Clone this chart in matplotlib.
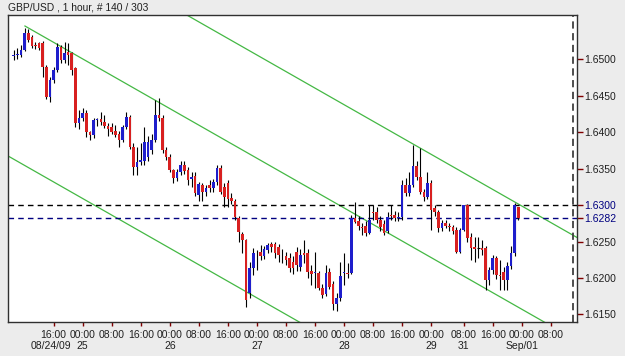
import numpy as np
import matplotlib
matplotlib.use("Agg")
import matplotlib.pyplot as plt

plt.rcParams['font.family'] = ['Liberation Sans', 'DejaVu Sans']

# hourly GBP/USD bars, 08/24/09 .. 09/01/09
opens = [1.6505, 1.6506, 1.6506, 1.6513, 1.6536, 1.6530, 1.6520, 1.6522, 1.6522, 1.6489,
         1.6448, 1.6472, 1.6485, 1.6517, 1.6499, 1.6510, 1.6508, 1.6488, 1.6412, 1.6419,
         1.6427, 1.6400, 1.6396, 1.6417, 1.6418, 1.6414, 1.6409, 1.6407, 1.6402, 1.6398,
         1.6389, 1.6407, 1.6421, 1.6380, 1.6352, 1.6359, 1.6360, 1.6366, 1.6375, 1.6389,
         1.6423, 1.6420, 1.6376, 1.6366, 1.6348, 1.6337, 1.6346, 1.6355, 1.6348, 1.6336,
         1.6340, 1.6314, 1.6327, 1.6318, 1.6328, 1.6323, 1.6332, 1.6351, 1.6325, 1.6331,
         1.6310, 1.6306, 1.6282, 1.6261, 1.6252, 1.6180, 1.6214, 1.6234, 1.6236, 1.6230,
         1.6238, 1.6247, 1.6247, 1.6243, 1.6231, 1.6230, 1.6228, 1.6222, 1.6236, 1.6215,
         1.6234, 1.6235, 1.6210, 1.6207, 1.6207, 1.6187, 1.6178, 1.6208, 1.6192, 1.6165,
         1.6172, 1.6207, 1.6207, 1.6207, 1.6283, 1.6278, 1.6270, 1.6272, 1.6262, 1.6290,
         1.6290, 1.6279, 1.6274, 1.6265, 1.6286, 1.6286, 1.6282, 1.6284, 1.6327, 1.6316,
         1.6328, 1.6354, 1.6339, 1.6318, 1.6311, 1.6330, 1.6296, 1.6290, 1.6268, 1.6275,
         1.6271, 1.6270, 1.6266, 1.6236, 1.6266, 1.6300, 1.6256, 1.6242, 1.6241, 1.6241,
         1.6241, 1.6197, 1.6211, 1.6228, 1.6204, 1.6208, 1.6197, 1.6217, 1.6234, 1.6297]
highs = [1.6513, 1.6515, 1.6520, 1.6543, 1.6541, 1.6533, 1.6524, 1.6524, 1.6525, 1.6492,
         1.6476, 1.6489, 1.6522, 1.6520, 1.6524, 1.6523, 1.6510, 1.6490, 1.6430, 1.6433,
         1.6430, 1.6402, 1.6420, 1.6420, 1.6428, 1.6424, 1.6412, 1.6413, 1.6410, 1.6402,
         1.6410, 1.6428, 1.6424, 1.6385, 1.6380, 1.6385, 1.6407, 1.6395, 1.6398, 1.6444,
         1.6447, 1.6423, 1.6380, 1.6370, 1.6350, 1.6350, 1.6360, 1.6360, 1.6352, 1.6345,
         1.6346, 1.6332, 1.6330, 1.6328, 1.6334, 1.6336, 1.6355, 1.6355, 1.6330, 1.6334,
         1.6316, 1.6308, 1.6285, 1.6263, 1.6254, 1.6222, 1.6241, 1.6238, 1.6245, 1.6244,
         1.6248, 1.6250, 1.6249, 1.6246, 1.6240, 1.6236, 1.6234, 1.6230, 1.6242, 1.6240,
         1.6252, 1.6240, 1.6218, 1.6236, 1.6210, 1.6192, 1.6218, 1.6214, 1.6196, 1.6180,
         1.6222, 1.6234, 1.6220, 1.6286, 1.6304, 1.6285, 1.6276, 1.6278, 1.6300, 1.6300,
         1.6298, 1.6285, 1.6280, 1.6290, 1.6300, 1.6292, 1.6290, 1.6335, 1.6337, 1.6345,
         1.6382, 1.6360, 1.6378, 1.6322, 1.6345, 1.6334, 1.6300, 1.6293, 1.6280, 1.6280,
         1.6276, 1.6273, 1.6270, 1.6268, 1.6300, 1.6301, 1.6262, 1.6256, 1.6256, 1.6252,
         1.6244, 1.6215, 1.6232, 1.6230, 1.6225, 1.6215, 1.6222, 1.6244, 1.6303, 1.6298]
lows = [1.6499, 1.6500, 1.6503, 1.6511, 1.6524, 1.6515, 1.6514, 1.6513, 1.6476, 1.6445,
        1.6442, 1.6468, 1.6483, 1.6495, 1.6495, 1.6492, 1.6478, 1.6407, 1.6405, 1.6415,
        1.6393, 1.6390, 1.6392, 1.6409, 1.6410, 1.6406, 1.6395, 1.6398, 1.6393, 1.6380,
        1.6386, 1.6405, 1.6377, 1.6341, 1.6341, 1.6355, 1.6355, 1.6360, 1.6370, 1.6386,
        1.6415, 1.6372, 1.6362, 1.6345, 1.6330, 1.6333, 1.6342, 1.6343, 1.6328, 1.6325,
        1.6312, 1.6305, 1.6305, 1.6312, 1.6318, 1.6318, 1.6328, 1.6315, 1.6298, 1.6298,
        1.6302, 1.6280, 1.6250, 1.6234, 1.6160, 1.6172, 1.6204, 1.6211, 1.6225, 1.6226,
        1.6234, 1.6236, 1.6228, 1.6222, 1.6220, 1.6218, 1.6208, 1.6206, 1.6210, 1.6210,
        1.6220, 1.6200, 1.6190, 1.6187, 1.6184, 1.6172, 1.6175, 1.6185, 1.6156, 1.6155,
        1.6168, 1.6190, 1.6200, 1.6205, 1.6275, 1.6266, 1.6259, 1.6258, 1.6260, 1.6280,
        1.6276, 1.6265, 1.6259, 1.6262, 1.6280, 1.6278, 1.6278, 1.6280, 1.6312, 1.6312,
        1.6325, 1.6335, 1.6315, 1.6305, 1.6308, 1.6266, 1.6285, 1.6263, 1.6264, 1.6268,
        1.6264, 1.6260, 1.6234, 1.6234, 1.6264, 1.6250, 1.6225, 1.6222, 1.6228, 1.6232,
        1.6184, 1.6190, 1.6205, 1.6198, 1.6184, 1.6184, 1.6184, 1.6212, 1.6230, 1.6280]
closes = [1.6506, 1.6507, 1.6513, 1.6536, 1.6527, 1.6518, 1.6518, 1.6516, 1.6489, 1.6448,
          1.6472, 1.6485, 1.6517, 1.6499, 1.6508, 1.6506, 1.6485, 1.6412, 1.6419, 1.6427,
          1.6400, 1.6396, 1.6417, 1.6418, 1.6414, 1.6409, 1.6405, 1.6400, 1.6396, 1.6389,
          1.6407, 1.6421, 1.6380, 1.6352, 1.6359, 1.6362, 1.6386, 1.6387, 1.6389, 1.6423,
          1.6419, 1.6376, 1.6366, 1.6348, 1.6337, 1.6346, 1.6355, 1.6347, 1.6335, 1.6338,
          1.6316, 1.6329, 1.6318, 1.6324, 1.6323, 1.6332, 1.6351, 1.6318, 1.6311, 1.6308,
          1.6306, 1.6284, 1.6263, 1.6252, 1.6170, 1.6214, 1.6234, 1.6235, 1.6230, 1.6240,
          1.6245, 1.6242, 1.6234, 1.6231, 1.6232, 1.6225, 1.6214, 1.6214, 1.6218, 1.6232,
          1.6232, 1.6208, 1.6206, 1.6208, 1.6187, 1.6177, 1.6207, 1.6188, 1.6165, 1.6172,
          1.6203, 1.6208, 1.6206, 1.6283, 1.6277, 1.6271, 1.6269, 1.6262, 1.6279, 1.6289,
          1.6279, 1.6270, 1.6262, 1.6284, 1.6285, 1.6282, 1.6284, 1.6327, 1.6316, 1.6328,
          1.6354, 1.6339, 1.6318, 1.6311, 1.6330, 1.6293, 1.6290, 1.6268, 1.6275, 1.6272,
          1.6270, 1.6265, 1.6236, 1.6266, 1.6300, 1.6255, 1.6241, 1.6240, 1.6241, 1.6239,
          1.6197, 1.6211, 1.6228, 1.6204, 1.6203, 1.6197, 1.6217, 1.6234, 1.6300, 1.6282]

# time axis labels (bar index of each tick)
tick_idx = [11, 19, 27, 35, 43, 51, 59, 67, 75, 83, 91, 99, 107, 115, 124, 132, 140, 148]
tick_lbl = ['16:00', '00:00', '08:00', '16:00', '00:00', '08:00', '16:00', '00:00', '08:00',
            '16:00', '00:00', '08:00', '16:00', '00:00', '08:00', '16:00', '00:00', '08:00']
day_idx = [10.3, 19, 43, 67, 91, 115, 124, 140]
day_lbl = ['08/24/09', '25', '26', '27', '28', '29', '31', 'Sep/01']

price_ticks = [1.6150, 1.6200, 1.6250, 1.6350, 1.6400, 1.6450, 1.6500]
marked_levels = [1.6300, 1.6282]

# channel lines: two (bar, price) points each
channel = {
    'upper': ([40, 160], [1.65826, 1.62420]),
    'middle': ([3.1, 160], [1.65457, 1.61004]),
    'lower': ([-5, 110], [1.63772, 1.60508]),
}

bg = '#ECECEC'
fig = plt.figure(figsize=(6.25, 3.56), dpi=100, facecolor=bg)
ax = fig.add_axes([8 / 625, 1 - 321.7 / 356, 569 / 625, 306.7 / 356])
ax.set_facecolor('white')

x = np.arange(len(closes))
o = np.array(opens)
c = np.array(closes)
up = c > o
dn = c < o
eq = c == o

ax.vlines(x, lows, highs, color='black', lw=0.8, zorder=3)
ax.bar(x[up], (c - o)[up], bottom=o[up], width=0.72, color='#1E1ECC', lw=0, zorder=4)
ax.bar(x[dn], (o - c)[dn], bottom=c[dn], width=0.72, color='#D82020', lw=0, zorder=4)
ax.hlines(c[eq], x[eq] - 0.36, x[eq] + 0.36, color='black', lw=0.8, zorder=4)

for name, (cx, cy) in channel.items():
    ax.plot(cx, cy, color='#44B844', lw=0.9, zorder=2)

ax.axhline(marked_levels[0], color='black', lw=1, dashes=(4, 3), zorder=2)
ax.axhline(marked_levels[1], color='#000080', lw=1, dashes=(4, 3), zorder=2)
ax.axvline(154.0, color='#404040', lw=1.3, dashes=(4, 2.5), zorder=2)

ax.set_xlim(-1.57, 155.2)
ax.set_ylim(1.61401, 1.65608)

all_ticks = price_ticks + marked_levels
ax.yaxis.tick_right()
ax.set_yticks(all_ticks)
ax.set_yticklabels(['%.4f' % p for p in all_ticks])
ax.tick_params(axis='y', length=4, width=1, color='#800000', pad=1,
               labelsize=7.5, labelcolor='#202020')
for lab, p in zip(ax.get_yticklabels(), all_ticks):
    if p in marked_levels:
        lab.set_color('#000080')

ax.set_xticks(tick_idx)
ax.set_xticklabels(tick_lbl)
ax.tick_params(axis='x', length=3, width=1, color='#800000', pad=3,
               labelsize=7.5, labelcolor='#202020')
for d, lbl in zip(day_idx, day_lbl):
    ax.text(d, -0.08, lbl, transform=ax.get_xaxis_transform(),
            fontsize=7.5, color='#202020', ha='center', va='center')

for sp in ax.spines.values():
    sp.set_color('#303030')
    sp.set_linewidth(1)

fig.text(8 / 625, 1 - 7.5 / 356, 'GBP/USD , 1 hour, # 140 / 303', fontsize=7.4,
         color='#202020', va='center', ha='left')

fig.savefig('out.png', dpi=100, facecolor=bg)
